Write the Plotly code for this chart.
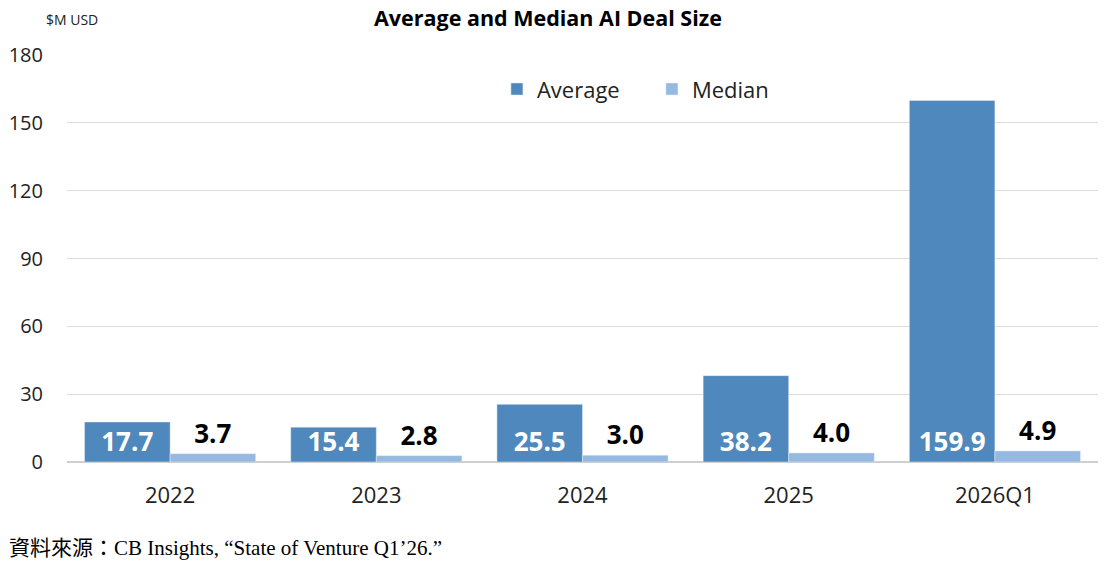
import plotly.graph_objects as go

# Average / median AI deal size, $M USD
periods = ['2022', '2023', '2024', '2025', '2026Q1']
average = [17.7, 15.4, 25.5, 38.2, 159.9]
median = [3.7, 2.8, 3.0, 4.0, 4.9]

fig = go.Figure()
fig.add_trace(go.Bar(
    x=periods, y=average, name='Average',
    marker_color='#4f88bd',
    text=[f'{v:.1f}' for v in average],
    textposition='inside', insidetextanchor='start', constraintext='none',
    textfont=dict(color='white', size=26, family='Open Sans', weight='bold'),
))
fig.add_trace(go.Bar(
    x=periods, y=median, name='Median',
    marker_color='#95b9e0',
    text=[f'{v:.1f}' for v in median],
    textposition='outside', constraintext='none',
    textfont=dict(color='black', size=26, family='Open Sans', weight='bold'),
    cliponaxis=False,
))

fig.update_layout(
    width=1107, height=562,
    margin=dict(l=65, r=9, t=55, b=100),
    plot_bgcolor='white', paper_bgcolor='white',
    font=dict(family='Open Sans', color='#222'),
    barmode='group', bargap=0.17, bargroupgap=0,
    showlegend=True,
    legend=dict(orientation='h', x=0.417, y=0.916, xanchor='left', yanchor='middle',
                font=dict(size=22), itemwidth=30, entrywidth=110,
                bgcolor='rgba(0,0,0,0)'),
    title=dict(text='<b>Average and Median AI Deal Size</b>', x=0.495, xanchor='center',
               y=0.968, yanchor='middle', font=dict(size=21.5, color='black')),
)
fig.update_yaxes(range=[0, 180], dtick=30, gridcolor='#dcdcdc', gridwidth=1,
                 tickfont=dict(size=20), ticklabelstandoff=23,
                 zeroline=True, zerolinecolor='#cfcfcf', showline=False)
fig.update_xaxes(tickfont=dict(size=22), ticks='', ticklabelstandoff=14,
                 showline=True, linecolor='#cfcfcf')

fig.add_annotation(text='$M USD', xref='paper', yref='paper', x=-0.0223, y=1.086,
                   xanchor='left', yanchor='middle', showarrow=False,
                   font=dict(size=14, color='#222'))
fig.add_annotation(text='資料來源：CB Insights, “State of Venture Q1’26.”',
                   xref='paper', yref='paper', x=-0.058, y=-0.211,
                   xanchor='left', yanchor='middle', showarrow=False,
                   font=dict(size=21, color='black',
                             family='Liberation Serif, Noto Sans CJK TC'))

# drop the page's default body margin so the figure sits at the window corner
fig.write_html('out.html', config={'displayModeBar': False},
               post_script="document.body.style.margin='0';")
